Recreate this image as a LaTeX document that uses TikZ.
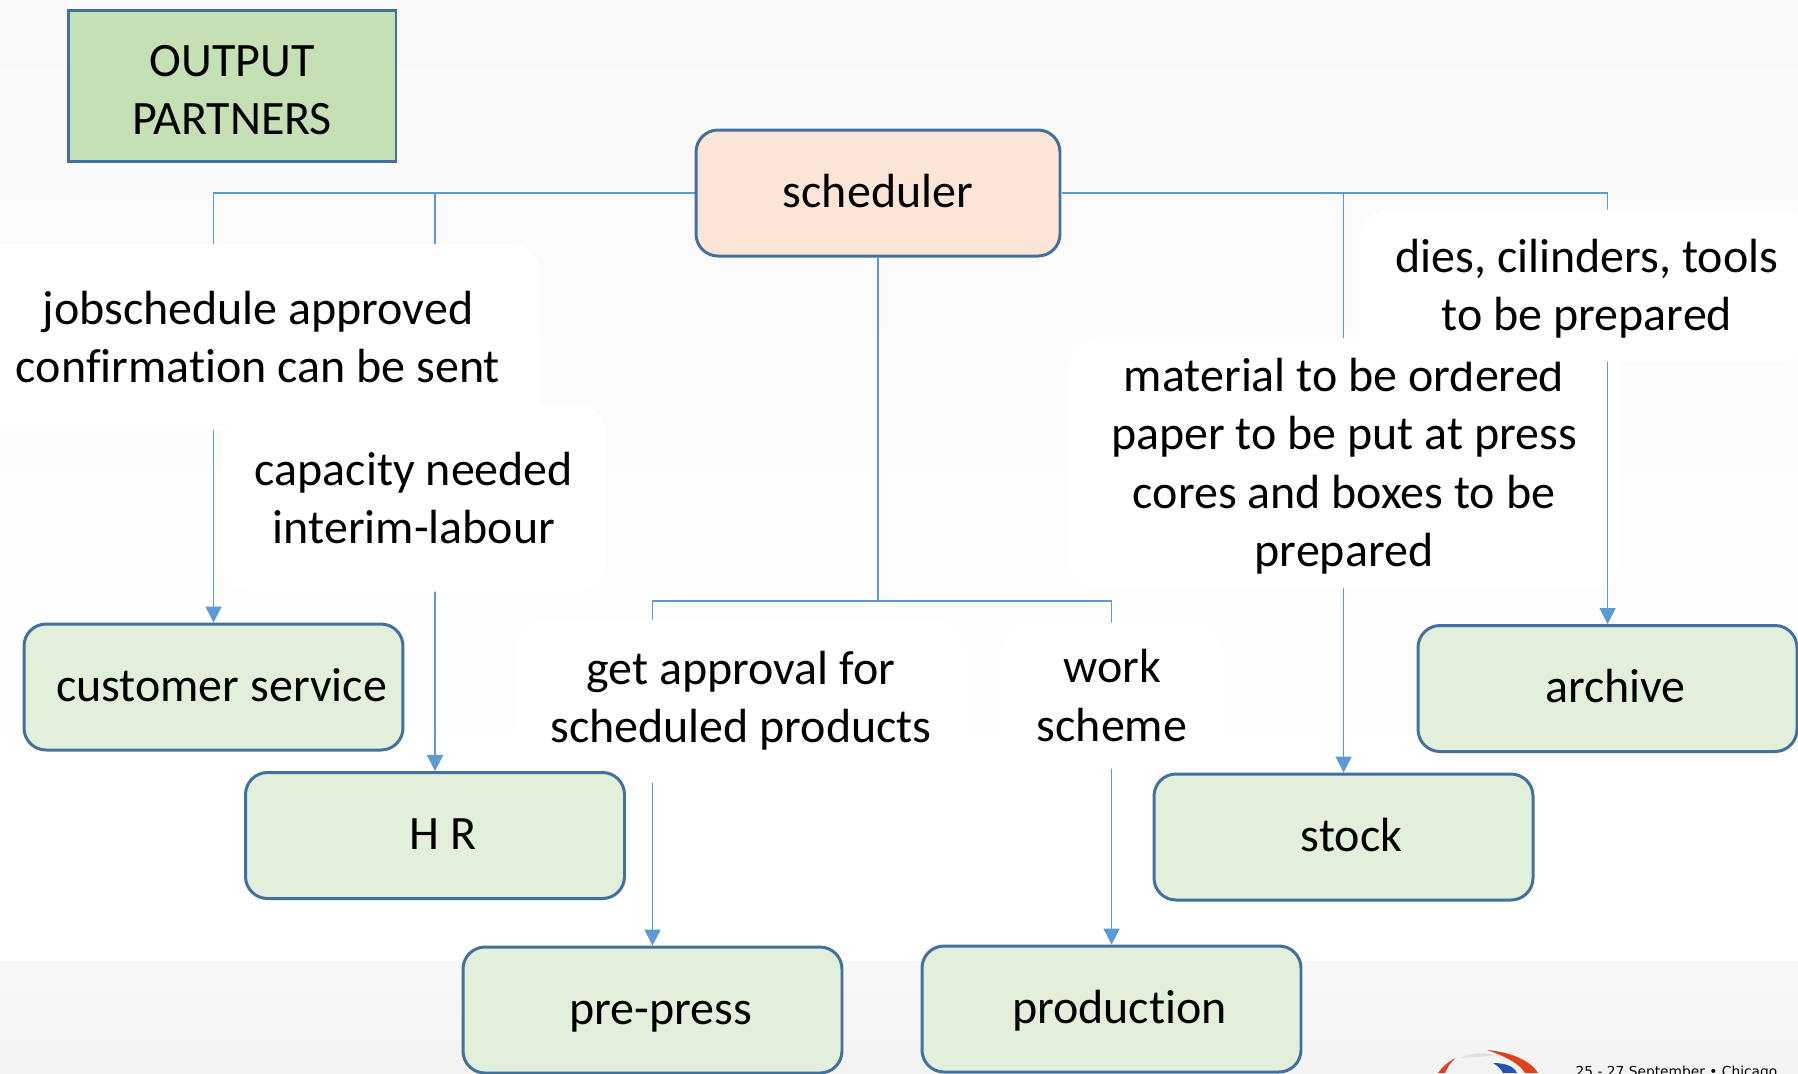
\documentclass[tikz,border=0pt]{standalone}
\usepackage{fontspec}
\usepackage{tikz}
\usetikzlibrary{arrows.meta,backgrounds}
\setmainfont{Carlito}[Ligatures=NoCommon]
\newfontfamily\datefont{DejaVu Sans}
\definecolor{linkblue}{HTML}{5B9BD5}
\definecolor{edgeblue}{HTML}{41719C}
\definecolor{titlegreen}{HTML}{C5E0B4}
\definecolor{partgreen}{HTML}{E2EFDA}
\definecolor{schedorange}{HTML}{FBE5D6}
\definecolor{pagegrey}{HTML}{F9F9FA}
\definecolor{bandgrey}{HTML}{F8F8F8}
\definecolor{banddark}{HTML}{F3F3F3}
\definecolor{logored}{HTML}{E0401C}
\definecolor{logoblue}{HTML}{2255B0}
\newcommand{\linedown}{\rule{0pt}{0.4cm}}
\tikzset{
	roundbox/.style={draw=edgeblue,line width=0.85pt,rounded corners=0.22cm,minimum height=1.26cm,text height=0.36cm,text depth=0.08cm},
	partbox/.style={roundbox,fill=partgreen,minimum width=3.79cm,execute at begin node=\hspace*{0.16cm}},
	schedbox/.style={roundbox,fill=schedorange,minimum width=3.64cm},
	titlebox/.style={draw=edgeblue,line width=0.85pt,fill=titlegreen,minimum width=3.28cm,minimum height=1.51cm,align=center},
	notebox/.style={fill=white,rounded corners=0.3cm,align=center},
	link/.style={draw=linkblue,line width=0.45pt},
	arrowlink/.style={link,-{Triangle[length=0.16cm,width=0.16cm]}}
}
\begin{document}
\begin{tikzpicture}[scale=0.1]
	\tikzstyle{every node}+=[inner sep=0pt]
	\fontsize{13.65}{16.6}\selectfont
	\useasboundingbox (0,0) rectangle (179.8,-107.3);
	% boxes
	\draw (23.2,-8.55) node [titlebox] (output) {\linedown OUTPUT\\PARTNERS};
	\draw (87.8,-19.3) node [schedbox] (scheduler) {scheduler};
	\draw (21.35,-68.7) node [partbox] (customer) {customer service};
	\draw (43.5,-83.55) node [partbox] (hr) {H R};
	\draw (65.25,-101) node [partbox] (prepress) {pre-press};
	\draw (111.15,-100.9) node [partbox] (production) {production};
	\draw (134.35,-83.7) node [partbox] (stock) {stock};
	\draw (160.75,-68.85) node [partbox] (archive) {archive};
	\coordinate (bus) at (87.8,-60.1);
	\draw (157.5,-107.6) node [anchor=base west,font=\datefont\fontsize{3.92}{4.5}\selectfont] (dateline) {25 - 27 September • Chicago};
	\begin{scope}[on background layer]
		% page
		\shade [top color=pagegrey,bottom color=white] (0,0) rectangle (179.8,-80);
		\fill [white] (0,-80) rectangle (179.8,-96.1);
		\shade [top color=bandgrey,bottom color=banddark] (0,-96.1) rectangle (179.8,-107.3);
		% logo
		\fill [logored] (148.7,-105) .. controls (151,-105.2) and (153,-106) .. (153.8,-107.3) -- (152.5,-107.3) .. controls (152,-106.4) and (150.5,-105.6) .. cycle;
		\fill [logored] (145.5,-105.8) .. controls (144.8,-106.2) and (144.2,-106.7) .. (143.8,-107.3) -- (144.5,-107.3) .. controls (144.7,-106.8) and (145,-106.3) .. cycle;
		\fill [black!12] (146,-105.8) .. controls (147,-105.3) and (148.5,-105.2) .. (149.5,-105.5) .. controls (148.5,-105.7) and (147,-105.7) .. cycle;
		\fill [logoblue] (149.3,-106.3) .. controls (150.5,-106.3) and (151.4,-106.6) .. (151.7,-107.3) -- (150.3,-107.3) .. controls (150.1,-106.9) and (149.8,-106.6) .. cycle;
		% links
		\draw [arrowlink] (scheduler.west) -| (customer.north);
		\draw [arrowlink] (scheduler.west) -| (hr.north);
		\draw [link] (scheduler.south) -- (bus);
		\draw [arrowlink] (bus) -| (prepress.north);
		\draw [arrowlink] (bus) -| (production.north);
		\draw [arrowlink] (scheduler.east) -| (stock.north);
		% notes
		\draw (25.8,-33.7) node [notebox,minimum width=5.64cm,minimum height=1.86cm] (jobnote) {jobschedule approved\\confirmation can be sent};
		\draw (41.4,-49.8) node [notebox,minimum width=3.85cm,minimum height=1.87cm] (capnote) {capacity needed\\interim-labour};
		\draw (74.1,-70.1) node [notebox,minimum width=4.5cm,minimum height=1.63cm] (approvalnote) {get approval for\\scheduled products};
		\draw (111.2,-69.55) node [notebox,minimum width=2.2cm,minimum height=1.46cm] (worknote) {work\\scheme};
		\draw (134.4,-46.3) node [notebox,minimum width=5.52cm,minimum height=2.5cm] (materialnote) {\linedown material to be ordered\\paper to be put at press\\cores and boxes to be\\prepared};
		\draw [arrowlink] (scheduler.east) -| (archive.north);
		\draw (158.7,-28.55) node [notebox,minimum width=4.54cm,minimum height=1.52cm] (diesnote) {\linedown dies, cilinders, tools\\to be prepared};
	\end{scope}
\end{tikzpicture}
\end{document}
